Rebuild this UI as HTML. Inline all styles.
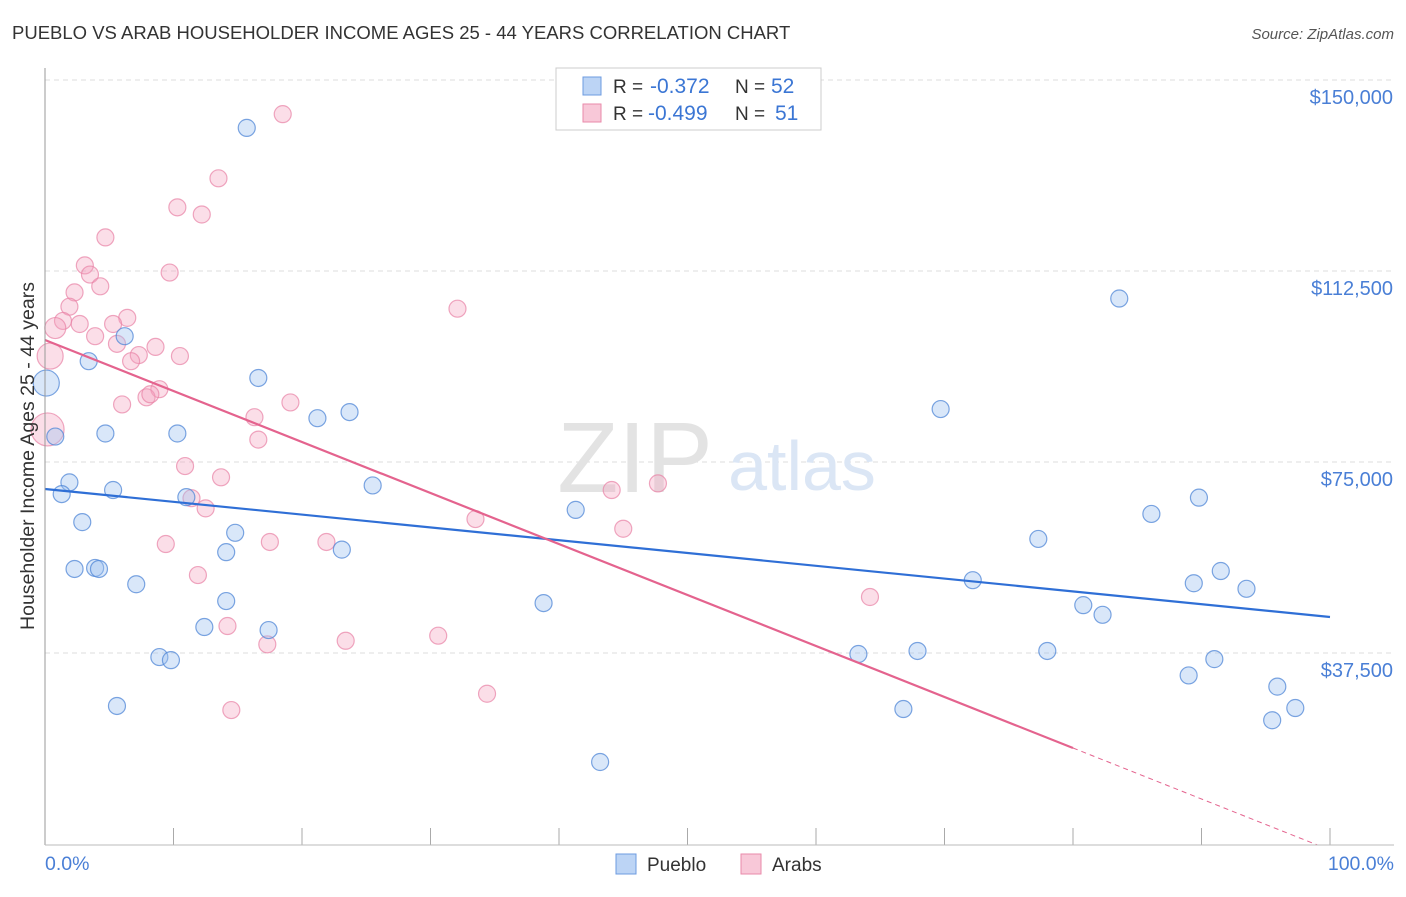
<!DOCTYPE html>
<html><head><meta charset="utf-8"><style>
body{margin:0;background:#fff;font-family:"Liberation Sans",sans-serif;}
svg text{font-family:"Liberation Sans",sans-serif;}
</style></head><body>
<svg id="c" width="1406" height="892">
<text x="12" y="39" font-size="18.5" fill="#333">PUEBLO VS ARAB HOUSEHOLDER INCOME AGES 25 - 44 YEARS CORRELATION CHART</text>
<text x="1394" y="39" font-size="15" fill="#555" font-style="italic" text-anchor="end">Source: ZipAtlas.com</text>
<g id="grid"></g>
<text x="635" y="492" font-size="100" fill="#e3e3e3" font-family="Liberation Serif" text-anchor="middle">ZIP</text>
<text x="802" y="490" font-size="70" fill="#dbe6f5" text-anchor="middle">atlas</text>
<g id="pts"></g>
<g id="lines"></g>
<line x1="45" y1="68" x2="45" y2="845" stroke="#999"/>
<line x1="45" y1="845" x2="1394" y2="845" stroke="#bbb"/>
<text x="45" y="870" font-size="19.5" fill="#4a7fd6">0.0%</text>
<text x="1394" y="870" font-size="19.5" fill="#4a7fd6" text-anchor="end">100.0%</text>
<text transform="translate(34,456) rotate(-90)" font-size="19.5" fill="#333" text-anchor="middle">Householder Income Ages 25 - 44 years</text>
<g>
<rect x="556" y="68" width="265" height="62" fill="#fff" stroke="#ccc"/>
<rect x="583" y="77" width="18" height="18" fill="#bcd4f5" stroke="#6d9be0"/>
<rect x="583" y="104" width="18" height="18" fill="#f8c8d8" stroke="#e98aaa"/>
<text x="613" y="93" font-size="19" fill="#333">R =</text>
<text x="650" y="93" font-size="21" fill="#3b76d4">-0.372</text>
<text x="735" y="93" font-size="19" fill="#333">N =</text>
<text x="771" y="93" font-size="21" fill="#3b76d4">52</text>
<text x="613" y="120" font-size="19" fill="#333">R =</text>
<text x="648" y="120" font-size="21" fill="#3b76d4">-0.499</text>
<text x="735" y="120" font-size="19" fill="#333">N =</text>
<text x="775" y="120" font-size="21" fill="#3b76d4">51</text>
</g>
<g>
<rect x="616" y="854" width="20" height="20" fill="#bcd4f5" stroke="#6d9be0"/>
<text x="647" y="871" font-size="19" fill="#333">Pueblo</text>
<rect x="741" y="854" width="20" height="20" fill="#f8c8d8" stroke="#e98aaa"/>
<text x="772" y="871" font-size="19" fill="#333">Arabs</text>
</g>
</svg>
<script>
const yTicks=[37500,75000,112500,150000];
const yTickLabels=["$37,500","$75,000","$112,500","$150,000"];
const blueX=[15.7,83.6,6.2,3.4,0.1,16.6,69.7,23.7,21.2,4.7,10.3,0.8,25.5,1.9,1.3,5.3,11.0,89.8,41.3,2.9,86.1,14.8,77.3,14.1,23.1,2.3,3.9,4.2,91.5,89.4,7.1,72.2,93.5,80.8,38.8,14.1,82.3,12.4,17.4,8.9,9.8,63.3,67.9,78.0,91.0,89.0,95.9,5.6,66.8,97.3,95.5,43.2];
const blueY=[140600,107100,99700,94800,90500,91500,85400,84800,83600,80600,80600,80000,70400,71000,68700,69500,68100,68000,65600,63200,64800,61100,59900,57300,57800,54000,54200,54000,53600,51200,51000,51800,50100,46900,47300,47700,45000,42600,42000,36700,36100,37300,37900,37900,36300,33100,30900,27100,26500,26700,24300,16100];
const blueR=[8.5,8.5,8.5,8.5,13,8.5,8.5,8.5,8.5,8.5,8.5,8.5,8.5,8.5,8.5,8.5,8.5,8.5,8.5,8.5,8.5,8.5,8.5,8.5,8.5,8.5,8.5,8.5,8.5,8.5,8.5,8.5,8.5,8.5,8.5,8.5,8.5,8.5,8.5,8.5,8.5,8.5,8.5,8.5,8.5,8.5,8.5,8.5,8.5,8.5,8.5,8.5];
const pinkX=[18.5,13.5,10.3,12.2,4.7,3.1,9.7,3.5,4.3,2.3,1.9,32.1,1.4,2.7,6.4,5.3,3.9,8.6,5.6,7.3,10.5,0.8,0.4,6.7,8.9,7.9,8.2,6.0,19.1,16.3,0.2,16.6,10.9,13.7,47.7,44.1,11.4,12.5,33.5,45.0,9.4,17.5,21.9,11.9,64.2,14.2,30.6,23.4,17.3,34.4,14.5];
const pinkY=[143300,130700,125000,123600,119100,113600,112200,111800,109500,108300,105500,105100,102700,102100,103300,102100,99700,97600,98200,96000,95800,101300,95800,94800,89300,87700,88300,86300,86700,83800,81400,79400,74200,72000,70800,69500,67900,65900,63800,61900,58900,59300,59300,52800,48500,42800,40900,39900,39200,29500,26300];
const pinkR=[8.5,8.5,8.5,8.5,8.5,8.5,8.5,8.5,8.5,8.5,8.5,8.5,8.5,8.5,8.5,8.5,8.5,8.5,8.5,8.5,8.5,10.5,13,8.5,8.5,8.5,8.5,8.5,8.5,8.5,16.5,8.5,8.5,8.5,8.5,8.5,8.5,8.5,8.5,8.5,8.5,8.5,8.5,8.5,8.5,8.5,8.5,8.5,8.5,8.5,8.5];
const blueTrend=[69700,44570];
const pinkTrend=[98950,18850];
const pinkSolidEnd=80;
const NS="http://www.w3.org/2000/svg";
const X=v=>45+v*12.85;
const Y=v=>844-v/196.34;
function mk(t,a,p){const e=document.createElementNS(NS,t);for(const k in a)e.setAttribute(k,a[k]);p.appendChild(e);return e;}
const grid=document.getElementById('grid');
yTicks.forEach((t,i)=>{
 const l=mk('line',{x1:45,x2:1394,y1:Y(t),y2:Y(t),stroke:'#ddd','stroke-dasharray':'5,4'},grid);
 
 
 const tx=mk('text',{x:1393,y:Y(t)+24,'font-size':20,fill:'#4a7fd6','text-anchor':'end'},grid);
 tx.textContent=yTickLabels[i];
 
 
});
const l0=mk('line',{x1:45,x2:1394,y1:80,y2:80,stroke:'#ddd','stroke-dasharray':'5,4'},grid);


for(let i=1;i<=10;i++){const tk=mk('line',{x1:X(i*10),x2:X(i*10),y1:828,y2:845,stroke:'#aaa'},grid);
 
 }
const pts=document.getElementById('pts');
pinkX.forEach((x,i)=>{const c=mk('circle',{cx:X(x),cy:Y(pinkY[i]),r:pinkR[i],fill:'rgba(244,160,190,0.35)',stroke:'rgba(232,130,165,0.7)','stroke-width':1.2},pts);
 
 });
blueX.forEach((x,i)=>{const c=mk('circle',{cx:X(x),cy:Y(blueY[i]),r:blueR[i],fill:'rgba(160,195,240,0.4)',stroke:'rgba(80,135,215,0.75)','stroke-width':1.2},pts);
 
 });
const lines=document.getElementById('lines');
const b=mk('line',{x1:X(0),y1:Y(blueTrend[0]),x2:X(100),y2:Y(blueTrend[1]),stroke:'#2f6fd6','stroke-width':2.2},lines);


const pv=x=>pinkTrend[0]+(pinkTrend[1]-pinkTrend[0])*x/pinkSolidEnd;
const p=mk('line',{x1:X(0),y1:Y(pv(0)),x2:X(pinkSolidEnd),y2:Y(pv(pinkSolidEnd)),stroke:'#e4638e','stroke-width':2.2},lines);


const pd=mk('line',{x1:X(pinkSolidEnd),y1:Y(pv(pinkSolidEnd)),x2:X(99),y2:Y(pv(99)),stroke:'#e4638e','stroke-width':1,'stroke-dasharray':'5,4'},lines);


</script>
</body></html>
